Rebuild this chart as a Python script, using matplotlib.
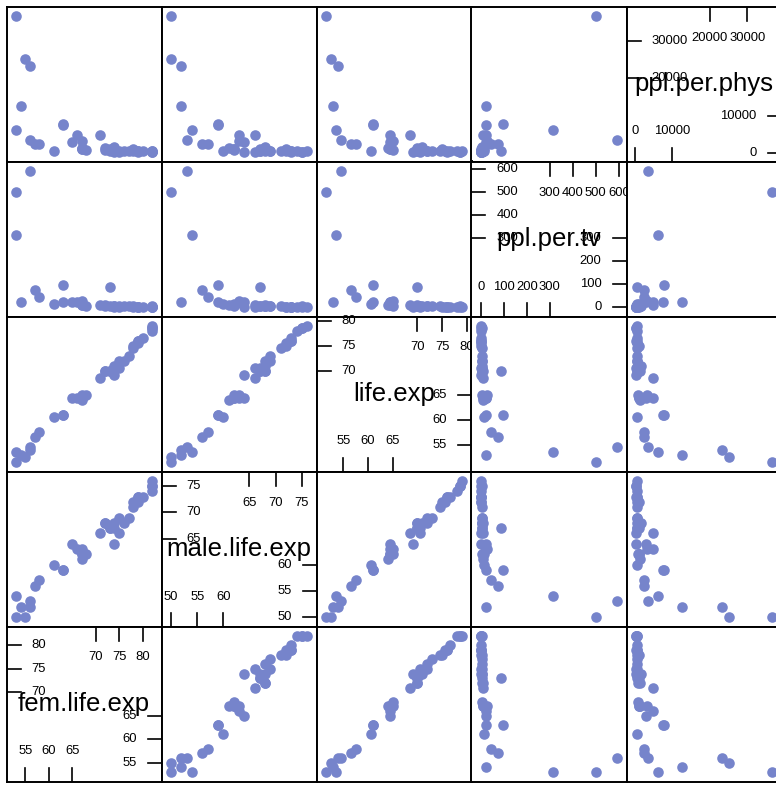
import matplotlib
matplotlib.use('Agg')
import matplotlib.pyplot as plt
from matplotlib.transforms import blended_transform_factory as blend
import numpy as np

plt.rcParams['font.family'] = ['Liberation Sans', 'DejaVu Sans']

# televisions data: 40 countries (NaN = missing)
life_exp = [70.5, 53.5, 65, 76.5, 70, 71, 60.5, 51.5, 78, 76, 57.5, 61, 64.5, 78.5, 79, 61,
            70, 70, 72, 64.5, 54.5, 56.5, 64.5, 64.5, 73, 72, 69, 64, 78.5, 53, 75, 52.5,
            68.5, 70, 70.5, 76, 75.5, 74.5, 65, 54]
ppl_per_tv = [4, 315, 4, 1.7, 8, 5.6, 15, 503, 2.6, 2.6, 44, 24, 23, 3.8, 1.8, 96,
              90, 4.9, 6.6, 21, 592, 73, 14, 8.8, 3.9, 6, 3.2, 11, 2.6, 23, 3.2, np.nan,
              11, 5, 3, 3, 1.3, 5.6, 29, np.nan]
ppl_per_phys = [370, 6166, 684, 449, 643, 1551, 616, 36660, 403, 346, 2471, 7427, 2992, 233,
                609, 7615, 370, 1066, 600, 4873, 3485, 2364, 1016, 1062, 480, 559, 259, 1340,
                275, 12550, 965, 25229, 4883, 1189, 226, 611, 404, 576, 3096, 23193]
fem_life_exp = [74, 53, 68, 80, 72, 74, 61, 53, 82, 79, 58, 63, 65, 82, 82, 63, 73, 73, 76,
                66, 56, 57, 67, 67, 77, 75, 74, 67, 82, 54, 78, 55, 71, 72, 75, 79, 79, 78,
                67, 56]
male_life_exp = [67, 54, 62, 73, 68, 68, 60, 50, 74, 73, 57, 59, 64, 75, 76, 59, 67, 67, 68,
                 63, 53, 56, 62, 62, 69, 69, 64, 61, 75, 52, 72, 50, 66, 68, 66, 73, 72, 71,
                 63, 52]

var_names = ['fem.life.exp', 'male.life.exp', 'life.exp', 'ppl.per.tv', 'ppl.per.phys']
data = [fem_life_exp, male_life_exp, life_exp, ppl_per_tv, ppl_per_phys]
# diagonal axes: lower values go bottom/right, upper values go top/left
low_ticks = [[55, 60, 65], [50, 55, 60], [55, 60, 65], [0, 100, 200, 300], [0, 10000]]
high_ticks = [[70, 75, 80], [65, 70, 75], [70, 75, 80], [300, 400, 500, 600], [20000, 30000]]

dot = '#7684cb'
W, H = 776, 785
n = 5
x0, y0, step = 6.5, 6.5, 155.0
tl = 14 / step
lw = 1.4
tick_fs = 9.4

fig = plt.figure(figsize=(W / 100, H / 100), dpi=100)


def lims(v):
    v = np.asarray(v, float)
    v = v[~np.isnan(v)]
    lo, hi = v.min(), v.max()
    pad = 0.07 * (hi - lo)
    return lo - pad, hi + pad


for r in range(n):
    for c in range(n):
        yi = n - 1 - r
        xi = c
        left = (x0 + step * c) / W
        bottom = 1 - (y0 + step * (r + 1)) / H
        ax = fig.add_axes([left, bottom, step / W, step / H])
        ax.set_xlim(lims(data[xi]))
        ax.set_ylim(lims(data[yi]))
        ax.set_xticks([])
        ax.set_yticks([])
        for s in ax.spines.values():
            s.set_linewidth(lw)
        if xi != yi:
            ax.scatter(data[xi], data[yi], s=58, color=dot, linewidths=0)
            continue
        ty = blend(ax.transAxes, ax.transData)
        tx = blend(ax.transData, ax.transAxes)
        for v in high_ticks[xi]:
            ax.plot([0, tl], [v, v], transform=ty, color='k', lw=1.2)
            ax.annotate(f'{v}', xy=(0, v), xycoords=('axes fraction', 'data'),
                        xytext=(25, 0), textcoords='offset pixels',
                        ha='left', va='center', fontsize=tick_fs)
            ax.plot([v, v], [1, 1 - tl], transform=tx, color='k', lw=1.2)
            ax.annotate(f'{v}', xy=(v, 1), xycoords=('data', 'axes fraction'),
                        xytext=(0, -31), textcoords='offset pixels',
                        ha='center', va='center', fontsize=tick_fs)
        for v in low_ticks[xi]:
            ax.plot([1 - tl, 1], [v, v], transform=ty, color='k', lw=1.2)
            ax.annotate(f'{v}', xy=(1, v), xycoords=('axes fraction', 'data'),
                        xytext=(-25, 0), textcoords='offset pixels',
                        ha='right', va='center', fontsize=tick_fs)
            ax.plot([v, v], [0, tl], transform=tx, color='k', lw=1.2)
            ax.annotate(f'{v}', xy=(v, 0), xycoords=('data', 'axes fraction'),
                        xytext=(0, 30), textcoords='offset pixels',
                        ha='center', va='center', fontsize=tick_fs)
        ax.text(0.5, 0.5, var_names[xi], transform=ax.transAxes,
                ha='center', va='center', fontsize=18.5)

fig.savefig('out.png', dpi=100)
